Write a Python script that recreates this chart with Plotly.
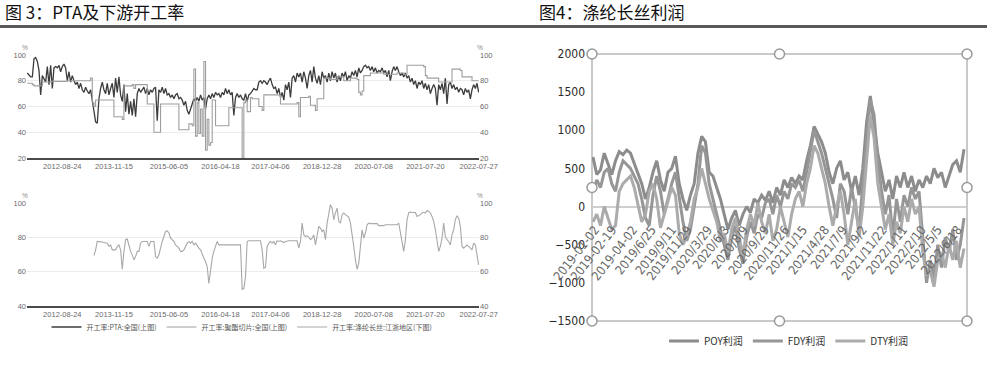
import plotly.graph_objects as go

W, H = 987, 374

# ---------------- Left panel data (index axis) ----------------
left_tick_idx = [21, 52, 85, 116, 146, 177, 208, 239, 271]
left_tick_text = ["2012-08-24", "2013-11-15", "2015-06-05", "2016-04-18", "2017-04-06",
                  "2018-12-28", "2020-07-08", "2021-07-20", "2022-07-27"]

pta_rate = [86, 84, 83, 83, 97, 98, 95, 88, 69, 84, 82, 79, 91, 77, 92, 74, 90, 91, 90, 92,
            87, 91, 93, 90, 80, 87, 79, 84, 80, 77, 79, 74, 78, 73, 71, 75, 72, 70, 73, 64,
            55, 48, 47, 66, 74, 79, 73, 70, 78, 69, 74, 78, 67, 82, 71, 83, 69, 64, 77, 56,
            70, 54, 64, 53, 66, 52, 70, 74, 71, 73, 75, 70, 74, 69, 73, 71, 74, 75, 49, 73,
            71, 75, 70, 74, 69, 70, 67, 69, 66, 69, 70, 66, 67, 65, 61, 64, 57, 54, 58, 61,
            66, 64, 67, 64, 69, 65, 67, 58, 66, 69, 66, 70, 67, 71, 69, 70, 67, 71, 69, 74,
            70, 73, 69, 71, 53, 67, 70, 67, 69, 66, 65, 70, 64, 69, 70,
            72, 74, 73, 73, 79, 80, 78, 80, 79, 77, 80, 82, 77, 74, 75, 70, 74, 67, 71, 65,
            77, 73, 79, 67, 82, 84, 79, 86, 83, 86, 79, 87, 82, 74, 84, 88, 79, 91, 82, 78,
            84, 77, 87, 82, 84, 79, 86, 80, 87, 82, 86, 79, 84, 80, 86, 83, 87, 80, 84, 82,
            87, 84, 88, 83, 90, 86, 88, 91, 92, 90, 91, 88, 91, 87, 90, 86, 88, 87, 90, 86,
            88, 83, 88, 80, 87, 91, 88, 91, 87, 84, 86, 83, 86, 82, 84, 79, 82, 77, 80, 74,
            79, 77, 80, 74, 78, 73, 77, 70, 74, 77, 74, 61, 77, 73, 78, 70, 82, 62, 77, 79,
            74, 77, 73, 75, 71, 74, 73, 69, 74, 71, 73, 66, 73, 77, 74, 78, 71]

chip_idx = [0, 3, 4, 7, 9, 14, 24, 37, 38, 39, 40, 41, 51, 52, 56, 57, 58, 63, 64, 65,
            71, 72, 75, 76, 79, 80, 90, 91, 96, 97, 99, 100, 101, 102, 103, 104, 105, 106, 107, 108,
            109, 110, 111, 112, 113, 120, 121, 128, 129, 130, 131, 132, 133, 134,
            135, 138, 139, 141, 142, 151, 152, 162, 163, 164, 169, 170, 172, 173, 174, 177,
            178, 182, 186, 190, 194, 198, 199, 200, 201, 202, 206, 214, 222, 226, 228, 238,
            239, 240, 246, 247, 254, 255, 260, 261, 266, 267, 271]
chip_rate = [78, 77, 76, 76, 79, 79.5, 80, 80, 82, 63, 60, 65, 65, 52, 52, 50, 76, 77, 74, 77,
             77, 62, 62, 40, 40, 62, 62, 42, 42, 46.5, 45, 89, 37, 63, 39, 58, 37, 95, 26, 50,
             30, 32, 65, 65, 45, 45, 59, 59, 20, 63, 65, 56, 56, 67,
             66, 66, 60, 57, 69, 69, 62, 63, 52, 67, 68, 61, 61, 57, 66, 66,
             82, 81, 83, 80, 82, 81, 71, 69, 72, 84, 86, 85, 86, 85, 92, 91,
             84, 82, 82, 79, 79, 89, 88, 83, 83, 80, 80]

fil_idx = list(range(40, 272))
fil_rate = [69.4, 72.7, 77.6, 77.6, 77.6, 77.3, 77, 76.8, 76.6, 74.7, 75.6, 72.7, 72.7, 72.7, 74.7, 75.6,
            72.7, 61.4, 71.8, 78.6, 79, 74.7, 71.8, 69.8, 66.9, 68.8, 71.8, 71.8, 76.6, 77.6,
            77.6, 77.6, 77.6, 74.7, 77.6, 77.6, 77.6, 68.8, 67.9, 69.8, 74.7, 77.6, 80.5, 83.4,
            83.8, 82.5, 79.5, 78.6, 77.6, 75.6, 74.7, 73.7, 71.8, 71.8, 72.7, 74.7, 76.6, 77.6,
            76.6, 77.6, 75.6, 76.6, 74.7, 73.7, 72.7, 69.8, 67.9, 65.9, 63, 53.2, 61, 67.9,
            71.8, 74.7, 77.6, 75.6, 75.6, 75.6, 75.4, 75.6, 75.6, 75.8, 75.6, 75.6, 75.4, 75.6,
            75.6, 75.6, 75.6, 49.7, 50.3, 57, 77.6, 78, 78,
            78, 78, 78, 78, 78, 78, 72.7, 62, 62.6, 74.7, 76.6, 77.6, 76.6, 77.6, 75.6, 78,
            77.6, 78, 77.6, 77, 77.6, 78, 78, 78, 78, 78, 78, 78, 73.7, 77.6, 88.3, 81.5,
            80.5, 80.9, 80.1, 78.6, 79.5, 81.5, 75.6, 82.5, 86.4, 85.4, 83.4, 84.4, 78.6, 88.3,
            94.2, 99, 97, 90.3, 94.2, 97, 89.3, 88.3, 93.2, 94.2, 93.2, 92.6, 91.8, 88.3, 82.5,
            74.7, 66.9, 61.4, 65, 75.6, 84.4, 79.5, 82.5, 87.3, 88.3, 88, 88, 87.8, 88, 88,
            86.8, 86.8, 86.6, 86.8, 87.3, 87.3, 87.5, 87.3, 87.6, 87.3, 87.3, 87.3, 88.3, 82.5,
            75.6, 71.8, 78.6, 90.3, 94.2, 94.7, 94.5, 94.5, 94.5, 92.2, 92.6, 93.2, 94.2, 94.6,
            94.2, 95.7, 95.1, 94.2, 92.2, 89.3, 84.4, 76.6, 71.8, 74.7, 79.5, 88.3, 80.5, 78.6,
            77.6, 75.6, 81.5, 84.4, 90.3, 92.6, 91.2, 86.4, 74.7, 73.7, 74.7, 75.6, 74.7, 73.7,
            72.7, 76.6, 75.6, 69.8, 64]

# ---------------- Right panel data ----------------
right_tick_pos = [0.5, 5.1, 10.7, 15.7, 21.1, 25.3, 30.7, 35.2, 40.3, 45.9, 51.2, 56, 61.9,
                  66.7, 72, 77.3, 82.7, 87.7, 92, 97.3]
right_tick_text = ["2019-01-02", "2019-02-19", "2019-04-02", "2019/6/25", "2019/9/11",
                   "2019/11/29", "2020/3/29", "2020/6/3", "2020/8/9", "2020/9/29",
                   "2020/11/26", "2021/1/15", "2021/4/28", "2021/7/9", "2021/9/2",
                   "2021/11/22", "2022/1/11", "2022/2/10", "2022/5/5", "2022/6/18"]

poy = [650, 420, 480, 700, 560, 420, 600, 720, 680, 740, 700, 560, 420,
       300, 100, 250, 450, 600,
       350, 200, 450, 500, 660,
       300, 100, -50, 150, 300,
       700, 920, 850, 450, 400,
       250, 100, -100, -300, -150, -50,
       -250, -100, 0, -80, 100, 50,
       150, 80, 200, 50, 250, 150,
       350, 250, 380, 300, 400, 350,
       600, 800, 1050, 950, 850,
       700, 450, 300, 500, 600,
       350, 450, 200, 400, 150, 500,
       1100, 1450, 1100, 700, 450,
       200, 350, 100, 400, 250, 450,
       250, 400, 200, 350, 250, 400,
       300, 500, 380, 450, 250, 400,
       550, 600, 450, 750]
fdy = [200, 350, 250, 450, 500, 300, 200, 450, 600, 550, 500, 400, 300,
       100, -150, -250, 150, 400,
       200, -100, 100, 300, 450,
       100, -200, -450, -300, 0,
       300, 800, 700, 300, 100,
       -100, -300, -500, -700, -400, -250,
       -550, -750, -400, -200, -350, -100,
       -150, 50, 100, -100, 150, 0,
       200, 100, 300, 250, 350, 200,
       450, 700, 1000, 850, 700,
       500, 300, 100, -150, 300,
       200, -100, 250, 0, -300, 300,
       900, 1400, 1200, 600, 200,
       -100, 150, -400, 100, -200, 150,
       0, 250, 100, 200, -400, -1000,
       -700, -950, -500, -800, -400, -600,
       -300, -700, -500, -150]
dty = [-200, -100, -250, 0, -150, -300, -250, 200, 300, 350, 400, 250, 0,
       -200, -100, 200, 300, 100,
       -280, -100, 100, 250, 150,
       -350, -500, -400, -200, 100,
       250, 500, 300, 100, -50,
       -200, -450, -350, -600, -300, -150,
       -400, -650, -300, -100, -250, 50,
       -200, -350, -100, -450, -300, 0,
       -200, -400, -100, 100, 200, 0,
       300, 500, 800, 700, 500,
       300, 0, -250, 0, 200,
       -100, -500, -200, 100, -400, 0,
       600, 1200, 900, 300, 0,
       -300, -100, -500, -200, -350, 0,
       -200, 100, -100, 0, -600, -900,
       -850, -1050, -700, -600, -800, -500,
       -700, -450, -800, -550]
right_x = list(range(len(poy)))

# ---------------- Figure ----------------
def px_x(p):
    return p / W

def px_y(p):
    return 1 - p / H

fig = go.Figure()

small = dict(family="Liberation Sans, Arial, sans-serif", size=7.5, color="#6a6a6a")
cjk = "Noto Sans CJK SC, sans-serif"
narrow = "Liberation Sans Narrow, DejaVu Sans Condensed, Liberation Sans, sans-serif"

fig.add_trace(go.Scatter(x=list(range(len(pta_rate))), y=pta_rate, mode="lines",
                         line=dict(color="#3c3c3c", width=1.3),
                         name="开工率:PTA:全国(上图)", xaxis="x", yaxis="y", legend="legend"))
fig.add_trace(go.Scatter(x=chip_idx, y=chip_rate, mode="lines",
                         line=dict(color="#9e9e9e", width=1.1, shape="hv"),
                         name="开工率:聚酯切片:全国(上图)", xaxis="x", yaxis="y2", legend="legend"))
fig.add_trace(go.Scatter(x=fil_idx, y=fil_rate, mode="lines",
                         line=dict(color="#a8a8a8", width=1.1),
                         name="开工率:涤纶长丝:江浙地区(下图)", xaxis="x2", yaxis="y3", legend="legend"))
# empty helper trace so the lower right-hand axis is created
fig.add_trace(go.Scatter(x=[], y=[], mode="lines", xaxis="x2", yaxis="y4",
                         showlegend=False, hoverinfo="skip"))

fig.add_trace(go.Scatter(x=right_x, y=poy, mode="lines", line=dict(color="#8c8c8c", width=3),
                         name="POY利润", xaxis="x3", yaxis="y5", legend="legend2"))
fig.add_trace(go.Scatter(x=right_x, y=fdy, mode="lines", line=dict(color="#969696", width=3),
                         name="FDY利润", xaxis="x3", yaxis="y5", legend="legend2"))
fig.add_trace(go.Scatter(x=right_x, y=dty, mode="lines", line=dict(color="#ababab", width=3),
                         name="DTY利润", xaxis="x3", yaxis="y5", legend="legend2"))
# empty helper trace so the rotated date axis is created
fig.add_trace(go.Scatter(x=[], y=[], mode="lines", xaxis="x4", yaxis="y5",
                         showlegend=False, hoverinfo="skip"))

lx = [px_x(27), px_x(479)]
up_dom = [px_y(158), px_y(55)]
lo_dom = [px_y(306), px_y(203)]
rx = [px_x(592), px_x(967)]
ry = [px_y(321), px_y(54)]

xcommon = dict(range=[-0.2, 271.2], tickmode="array", tickvals=left_tick_idx,
               ticktext=left_tick_text, tickfont=small, showgrid=False, zeroline=False,
               showline=True, linecolor="#4a4a4a", linewidth=1.5, ticks="", automargin=False)
ycommon = dict(tickfont=small, zeroline=False, ticks="", showline=False, automargin=False)

fig.update_layout(
    width=W, height=H, margin=dict(l=0, r=0, t=0, b=0, autoexpand=False),
    paper_bgcolor="white", plot_bgcolor="white",
    xaxis=dict(domain=lx, anchor="y", **xcommon),
    yaxis=dict(domain=up_dom, anchor="x", range=[20, 100], tickvals=[20, 40, 60, 80, 100],
               showgrid=True, gridcolor="#ececec", **ycommon),
    yaxis2=dict(overlaying="y", side="right", anchor="x", range=[20, 100],
                tickvals=[20, 40, 60, 80, 100], showgrid=False, **ycommon),
    xaxis2=dict(domain=lx, anchor="y3", **xcommon),
    yaxis3=dict(domain=lo_dom, anchor="x2", range=[40, 100], tickvals=[40, 60, 80, 100],
                showgrid=True, gridcolor="#ececec", **ycommon),
    yaxis4=dict(overlaying="y3", side="right", anchor="x2", range=[40, 100],
                tickvals=[40, 60, 80, 100], showgrid=False, **ycommon),
    xaxis3=dict(domain=rx, anchor="y5", range=[-0.27, 99.8], showgrid=False, zeroline=False,
                showticklabels=False, showline=False, ticks="", automargin=False),
    xaxis4=dict(overlaying="x3", anchor="free", position=px_y(219), range=[-0.27, 99.8],
                tickmode="array", tickvals=right_tick_pos, ticktext=right_tick_text,
                tickangle=-52, tickfont=dict(family=narrow, size=12.5, color="#666666"),
                showgrid=False, zeroline=False, showline=False, ticks="", automargin=False),
    yaxis5=dict(domain=ry, anchor="x3", range=[-1500, 2000],
                tickvals=[-1500, -1000, -500, 0, 500, 1000, 1500, 2000],
                tickfont=dict(family=narrow, size=12, color="#2a2a2a"),
                showgrid=False, zeroline=True, zerolinecolor="#cfcfcf", zerolinewidth=1.5,
                showline=False, ticks="", ticklabelstandoff=6, automargin=False),
    legend=dict(orientation="h", x=px_x(242), xanchor="center", y=px_y(327), yanchor="middle",
                font=dict(family=cjk, size=7, color="#555555"), bgcolor="rgba(0,0,0,0)",
                itemwidth=30, tracegroupgap=0),
    legend2=dict(orientation="h", x=px_x(789), xanchor="center", y=px_y(341), yanchor="middle",
                 font=dict(family=cjk, size=10, color="#333333"), bgcolor="rgba(0,0,0,0)",
                 itemwidth=30),
    showlegend=True,
)

annotations = [
    dict(text="图 3：PTA及下游开工率", x=px_x(3), y=px_y(11), xref="paper", yref="paper",
         xanchor="left", yanchor="middle", showarrow=False,
         font=dict(family=cjk, size=17, color="#111111")),
    dict(text="图4：涤纶长丝利润", x=px_x(537), y=px_y(11), xref="paper", yref="paper",
         xanchor="left", yanchor="middle", showarrow=False,
         font=dict(family=cjk, size=17, color="#111111")),
]
for (xp, yp) in [(25, 47), (480, 47), (25, 195), (480, 195)]:
    annotations.append(dict(text="%", x=px_x(xp), y=px_y(yp), xref="paper", yref="paper",
                            xanchor="center", yanchor="middle", showarrow=False,
                            font=dict(family="Liberation Sans, sans-serif", size=6.5, color="#888888")))
fig.update_layout(annotations=annotations)

shapes = [
    dict(type="line", xref="paper", yref="paper", x0=0, x1=1, y0=px_y(26.5), y1=px_y(26.5),
         line=dict(color="#5a5a5a", width=3)),
    dict(type="rect", xref="x3 domain", yref="y5 domain", x0=0, x1=1, y0=0, y1=1,
         line=dict(color="#b8b8b8", width=1.5), layer="below"),
]
for hx in (0, 0.5, 1):
    for hy in (0, 0.5, 1):
        if hx == 0.5 and hy == 0.5:
            continue
        shapes.append(dict(type="circle", xref="x3 domain", yref="y5 domain",
                           xsizemode="pixel", ysizemode="pixel", xanchor=hx, yanchor=hy,
                           x0=-5, x1=5, y0=-5, y1=5, fillcolor="white",
                           line=dict(color="#9a9a9a", width=1.5), layer="above"))
fig.update_layout(shapes=shapes)

# remove the page's default body margin so the figure sits at the window's top-left corner
fig.write_html("out.html", config={"displayModeBar": False},
               post_script="document.body.style.margin='0';document.body.style.padding='0';")
